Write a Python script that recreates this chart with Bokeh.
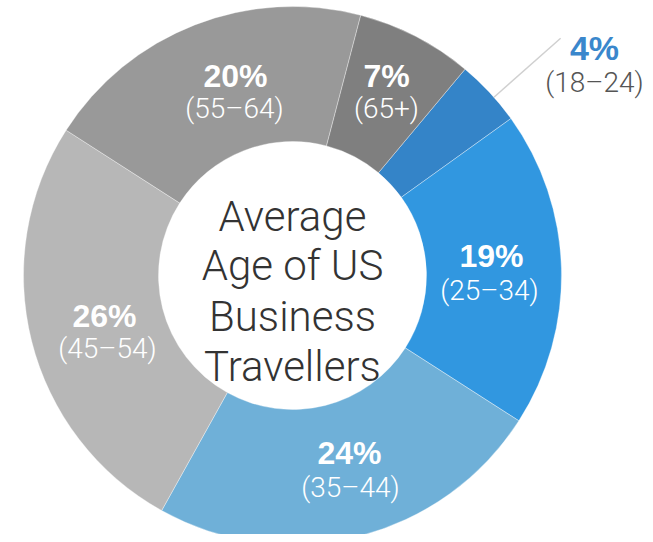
import math
from bokeh.plotting import figure
from bokeh.models import Range1d, ColumnDataSource
from bokeh.core.properties import value
from bokeh.embed import file_html
from bokeh.resources import INLINE

# ---- data ----
age_groups = ["18–24", "25–34", "35–44", "45–54", "55–64", "65+"]
shares = [4, 19, 24, 26, 20, 7]
colors = ["#3484c8", "#3197e0", "#6fb0d8", "#b7b7b7", "#999999", "#7f7f7f"]
title_lines = ["Average", "Age of US", "Business", "Travellers"]

# ---- layout (image pixel coords, y down) ----
CX, CY = 292, 275
R_OUT, R_IN = 269, 134
START = 39.9  # degrees clockwise from 12 o'clock

# label anchor positions (baseline) per segment
pct_pos = [(594, 47), (491, 255), (349, 452), (104, 315), (235, 75), (386, 75)]
rng_pos = [(594, 82), (489, 290), (350, 487), (107, 348), (234, 108), (386, 108)]
pct_size = ["34px", "32px", "32px", "32px", "32px", "32px"]

W, H = 645, 534
p = figure(width=W, height=H, output_backend="svg", toolbar_location=None,
           x_range=Range1d(0, W), y_range=Range1d(-H, 0),
           min_border=0, outline_line_color=None)
p.axis.visible = False
p.grid.visible = False
p.background_fill_color = "white"
p.border_fill_color = "white"

total = sum(shares)
starts, ends = [], []
acc = START
for s in shares:
    a0 = acc
    a1 = acc + 360.0 * s / total
    starts.append(90 - a0)
    ends.append(90 - a1)
    acc = a1

src = ColumnDataSource(dict(start=starts, end=ends, color=colors,
                            x=[CX] * len(shares), y=[-CY] * len(shares)))
p.annular_wedge(x="x", y="y", inner_radius=R_IN, outer_radius=R_OUT,
                start_angle="start", end_angle="end", start_angle_units="deg",
                end_angle_units="deg", direction="clock", fill_color="color",
                line_color="white", line_width=0.6, line_alpha=0.6, source=src)

# leader line for the small 4% segment
ang = math.radians(48.5)
r0, r1 = R_OUT, R_OUT + 89
p.line([CX + r0 * math.sin(ang), CX + r1 * math.sin(ang)],
       [-(CY - r0 * math.cos(ang)), -(CY - r1 * math.cos(ang))],
       line_color="#d0d0d0", line_width=1.5)

light = value("Roboto Light")
bold = value("Liberation Sans")

pct_src = ColumnDataSource(dict(
    x=[q[0] for q in pct_pos], y=[-q[1] for q in pct_pos],
    text=[f"{s}%" for s in shares],
    color=["#3a87cc"] + ["white"] * 5,
    size=pct_size))
p.text(x="x", y="y", text="text", text_color="color", text_font=bold,
       text_font_style="bold", text_font_size="size", text_align="center",
       text_baseline="alphabetic", source=pct_src)

rng_text = [f"({g})" for g in age_groups]
rng_col = ["#555555"] + ["white"] * 5
p.text(x=[q[0] for q in rng_pos], y=[-q[1] for q in rng_pos], text=rng_text,
       text_color=rng_col, text_font=light, text_font_size="28px",
       text_align="center", text_baseline="alphabetic")

title_base = [216, 265, 316, 366]
p.text(x=[CX] * 4, y=[-b for b in title_base], text=title_lines,
       text_color="#333333", text_font=light, text_font_size="42px",
       text_align="center", text_baseline="alphabetic")

open("out.html", "w").write(file_html(p, INLINE))
